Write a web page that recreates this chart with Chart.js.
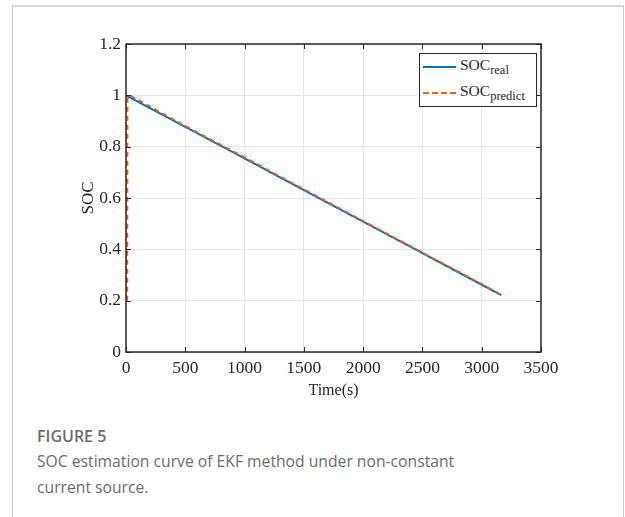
<!DOCTYPE html>
<html>
<head>
<meta charset="utf-8">
<script src="https://cdn.jsdelivr.net/npm/chart.js@4.4.0/dist/chart.umd.min.js"></script>
<style>
    body { margin: 0; background: #fff; width: 625px; height: 517px; overflow: hidden; position: relative; }
    .card { position: absolute; left: 12px; top: 5px; width: 612px; height: 600px; border: 1px solid #c8c8c8; border-top: 2px solid #d8d8d8; box-sizing: border-box; }
    .plot { position: absolute; left: 0; top: 0; width: 625px; height: 410px; }
    .legend { position: absolute; left: 419px; top: 53px; width: 118px; height: 54px; box-sizing: border-box; border: 1px solid #262626; background: #fff; font-family: "Liberation Serif", serif; font-size: 15.5px; color: #262626; }
    .legend .row { position: absolute; left: 3px; height: 20px; }
    .legend .row span.name { position: absolute; left: 37px; top: 0; white-space: nowrap; }
    .legend sub { font-size: 12.5px; vertical-align: -4px; }
    .legend .sample { position: absolute; left: 0; top: 10px; width: 33px; height: 0; }
    .caption { position: absolute; left: 37px; top: 424px; font-family: "Open Sans", sans-serif; color: #6b6b6b; }
    .caption .fig { font-size: 16px; font-weight: 600; line-height: 24px; }
    .caption .txt { font-size: 15.7px; line-height: 26px; width: 470px; }
</style>
</head>
<body>
<div class="card"></div>
<div class="plot"><canvas id="socChart"></canvas></div>
<div class="legend">
    <div class="row" style="top:2px"><div class="sample" style="border-top:2px solid #0072BD"></div><span class="name">SOC<sub>real</sub></span></div>
    <div class="row" style="top:28px"><div class="sample" style="border-top:2px dashed #EC5A1C"></div><span class="name">SOC<sub>predict</sub></span></div>
</div>
<div class="caption">
    <div class="fig">FIGURE 5</div>
    <div class="txt">SOC estimation curve of EKF method under non-constant current source.</div>
</div>
<script>
    'use strict';
    // values
    var timeReal = [0, 500, 1000, 1500, 2000, 2500, 3000, 3165];
    var socReal = [1.0, 0.877, 0.754, 0.631, 0.508, 0.385, 0.262, 0.222];

    var timePredict = [10, 12, 30, 500, 1000, 1500, 2000, 2500, 3000, 3165];
    var socPredict = [0.2, 0.985, 1.0, 0.880, 0.758, 0.634, 0.510, 0.387, 0.264, 0.222];

    var xTicks = [0, 500, 1000, 1500, 2000, 2500, 3000, 3500];
    var yTicks = [0, 0.2, 0.4, 0.6, 0.8, 1, 1.2];

    function toPoints(xs, ys) {
        return xs.map(function (x, i) { return { x: x, y: ys[i] }; });
    }

    var serif = { family: 'Liberation Serif', size: 17.5 };

    // MATLAB style box with inward ticks on all four sides
    var boxPlugin = {
        id: 'boxPlugin',
        afterDatasetsDraw: function (chart) {
            var a = chart.chartArea, ctx = chart.ctx;
            var xs = chart.scales.x, ys = chart.scales.y;
            var tl = 5;
            ctx.save();
            ctx.strokeStyle = '#262626';
            ctx.lineWidth = 1;
            ctx.beginPath();
            xTicks.forEach(function (v) {
                var px = Math.round(xs.getPixelForValue(v)) + 0.5;
                ctx.moveTo(px, a.bottom); ctx.lineTo(px, a.bottom - tl);
                ctx.moveTo(px, a.top); ctx.lineTo(px, a.top + tl);
            });
            yTicks.forEach(function (v) {
                var py = Math.round(ys.getPixelForValue(v)) + 0.5;
                ctx.moveTo(a.left, py); ctx.lineTo(a.left + tl, py);
                ctx.moveTo(a.right, py); ctx.lineTo(a.right - tl, py);
            });
            ctx.stroke();
            ctx.lineWidth = 1.5;
            ctx.strokeRect(a.left, a.top, a.right - a.left, a.bottom - a.top);
            ctx.restore();
        }
    };

    var socConfig = {
        type: 'line',
        data: {
            datasets: [{
                label: 'SOC real',
                data: toPoints(timeReal, socReal),
                borderColor: '#0072BD',
                borderWidth: 2,
                pointRadius: 0,
                order: 2
            }, {
                label: 'SOC predict',
                data: toPoints(timePredict, socPredict),
                borderColor: '#EC5A1C',
                borderWidth: 2,
                borderDash: [5, 4],
                pointRadius: 0,
                order: 1
            }]
        },
        options: {
            responsive: true,
            maintainAspectRatio: false,
            animation: false,
            layout: { padding: { left: 78, top: 44, right: 84, bottom: 0 } },
            plugins: { legend: { display: false }, tooltip: { enabled: false } },
            scales: {
                x: {
                    type: 'linear',
                    min: 0,
                    max: 3500,
                    afterBuildTicks: function (s) { s.ticks = xTicks.map(function (v) { return { value: v }; }); },
                    afterFit: function (s) { s.height = 58; },
                    grid: { color: '#e6e6e6', drawTicks: false },
                    border: { display: false },
                    ticks: {
                        color: '#262626', font: serif, padding: 6, maxRotation: 0,
                        callback: function (v) { return String(v); }
                    },
                    title: { display: true, text: 'Time(s)', color: '#262626', font: { family: 'Liberation Serif', size: 16 }, padding: { top: 0, bottom: 10 } }
                },
                y: {
                    min: 0,
                    max: 1.2,
                    afterBuildTicks: function (s) { s.ticks = yTicks.map(function (v) { return { value: v }; }); },
                    afterFit: function (s) { s.width = 48; },
                    grid: { color: '#e6e6e6', drawTicks: false },
                    border: { display: false },
                    ticks: {
                        color: '#262626', font: serif, padding: 5,
                        callback: function (v) { return String(Number(v.toFixed(1))); }
                    },
                    title: { display: true, text: 'SOC', color: '#262626', font: { family: 'Liberation Serif', size: 17 }, padding: { top: 0, bottom: 0 } }
                }
            }
        },
        plugins: [boxPlugin]
    };

    var ctx = document.getElementById('socChart').getContext('2d');
    window.socChart = new Chart(ctx, socConfig);
</script>
</body>
</html>
